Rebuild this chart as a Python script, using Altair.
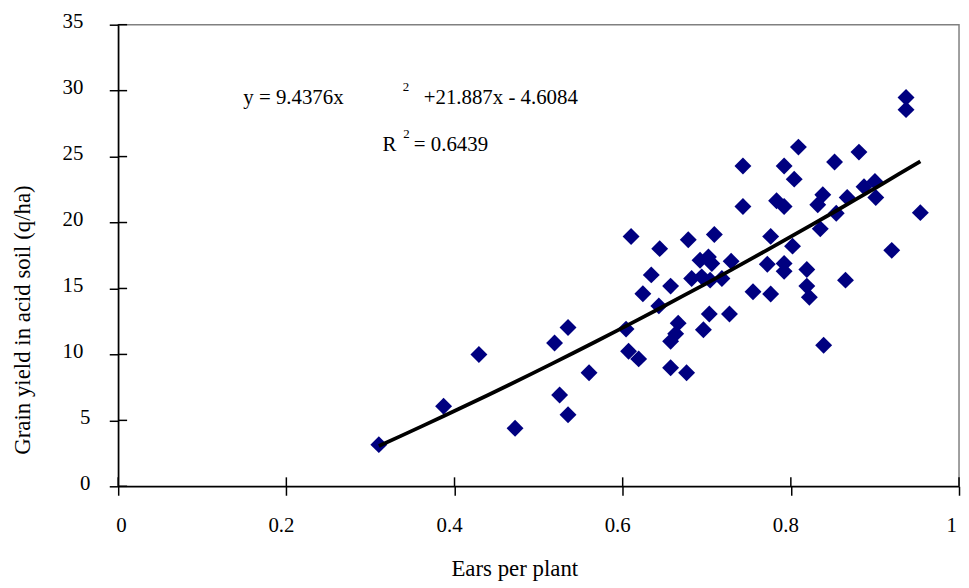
import altair as alt
import pandas as pd

# Ears per plant (x) and grain yield in acid soil, q/ha (y)
ears = [0.310, 0.387, 0.429, 0.472, 0.519, 0.535, 0.560, 0.525, 0.535,
        0.604, 0.607, 0.619, 0.610, 0.624, 0.634, 0.643, 0.644, 0.657, 0.657, 0.663, 0.666,
        0.657, 0.676, 0.678, 0.692, 0.702, 0.706, 0.709, 0.729, 0.682, 0.694, 0.704, 0.718,
        0.703, 0.727, 0.696, 0.743, 0.743, 0.755, 0.776, 0.772, 0.776, 0.783, 0.792,
        0.792, 0.804, 0.809, 0.792, 0.792, 0.802, 0.819, 0.819, 0.822, 0.832, 0.838, 0.835, 0.839,
        0.852, 0.854, 0.865, 0.867, 0.881, 0.887, 0.900, 0.901, 0.920, 0.937, 0.937, 0.954]
grain = [3.16, 6.07, 9.99, 4.40, 10.87, 12.04, 8.61, 6.92, 5.42,
         11.92, 10.24, 9.66, 18.94, 14.60, 16.03, 13.68, 18.02, 15.18, 10.99, 11.57, 12.37,
         8.99, 8.61, 18.70, 17.14, 17.39, 16.89, 19.09, 17.06, 15.76, 15.88, 15.63, 15.76,
         13.07, 13.07, 11.87, 24.29, 21.22, 14.75, 14.58, 16.84, 18.95, 21.65, 21.22,
         24.29, 23.29, 25.72, 16.90, 16.30, 18.21, 16.44, 15.18, 14.33, 21.35, 22.11, 19.52, 10.69,
         24.59, 20.70, 15.63, 21.90, 25.34, 22.71, 23.11, 21.90, 17.89, 29.48, 28.56, 20.75]

x_ticks = [0, 0.2, 0.4, 0.6, 0.8, 1.0]
y_ticks = [0, 5, 10, 15, 20, 25, 30, 35]

eq_main = "y = 9.4376x"
eq_sup = "2"
eq_rest = "+21.887x - 4.6084"
r_label = "R"
r_sup = "2"
r_value = "= 0.6439"

FONT = "Liberation Serif"
NAVY = "#000080"

df = pd.DataFrame({"ears": ears, "grain": grain})
xs = alt.Scale(domain=[0, 1], nice=False, zero=False)
ys = alt.Scale(domain=[0, 35], nice=False)

x_axis = alt.Axis(values=x_ticks, format="~g", title="Ears per plant",
                  titleX=399, titleY=83, titleAlign="center", titleBaseline="middle",
                  labelPadding=20,
                  labelOffset={"condition": {"test": "datum.value == 0 || datum.value == 1",
                                             "value": -2.5}, "value": -5.5})
y_axis = alt.Axis(values=y_ticks, title="Grain yield in acid soil (q/ha)",
                  titleX=-96, titleY=297, titleAngle=270, titleAlign="center",
                  titleBaseline="middle", labelOffset=-3,
                  labelPadding={"condition": {"test": "datum.value < 10", "value": 19.5},
                                "value": 26.5})

points = alt.Chart(df).mark_point(shape="diamond", filled=True, size=290,
                                  color=NAVY, opacity=1).encode(
    x=alt.X("ears:Q", scale=xs, axis=x_axis),
    y=alt.Y("grain:Q", scale=ys, axis=y_axis),
)

trend = alt.Chart(df).transform_regression(
    "ears", "grain", method="poly", order=2
).mark_line(color="black", strokeWidth=3.8).encode(
    x=alt.X("ears:Q", scale=xs),
    y=alt.Y("grain:Q", scale=ys),
)

# inner halves of the crossing tick marks
x_in = alt.Chart(pd.DataFrame({"v": x_ticks})).mark_rule(color="black", strokeWidth=1.5).encode(
    x=alt.X("v:Q", scale=xs), y=alt.datum(0), y2=alt.datum(0.68))
y_in = alt.Chart(pd.DataFrame({"v": y_ticks})).mark_rule(color="black", strokeWidth=1.5).encode(
    y=alt.Y("v:Q", scale=ys), x=alt.datum(0), x2=alt.datum(0.0106))

def label(txt, x, y, size=21):
    return alt.Chart(pd.DataFrame({"t": [txt]})).mark_text(
        align="left", baseline="middle", font=FONT, fontSize=size, color="black"
    ).encode(x=alt.datum(x), y=alt.datum(y), text="t:N")

texts = [
    label(eq_main, 0.1488, 29.46),
    label(eq_sup, 0.3385, 30.27, 13),
    label(eq_rest, 0.3634, 29.46),
    label(r_label, 0.3142, 25.88),
    label(r_sup, 0.3390, 26.70, 13),
    label(r_value, 0.3516, 25.88),
]

chart = alt.layer(x_in, y_in, points, trend, *texts).properties(
    width=847, height=465,
    autosize=alt.AutoSizeParams(type="none"),
    padding={"left": 111, "top": 14.7, "right": 2, "bottom": 100},
).configure_view(
    stroke="#808080", strokeWidth=1.5
).configure_axis(
    grid=False, domainColor="black", domainWidth=1.5, tickColor="black", tickWidth=1.5,
    tickSize=9, labelFont=FONT, labelFontSize=21, labelColor="black",
    titleFont=FONT, titleFontSize=23, titleColor="black", titleFontWeight="normal",
)

chart.save("out.html", embed_options={"renderer": "svg", "actions": False})
